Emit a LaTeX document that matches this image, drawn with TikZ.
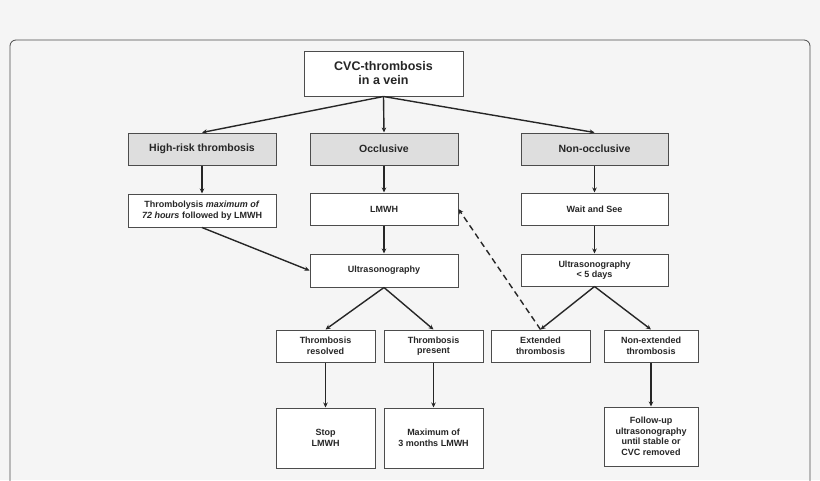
\documentclass[tikz,border=0pt]{standalone}
\usepackage{fontspec}
\setmainfont{Liberation Sans}
\usetikzlibrary{arrows.meta}
\begin{document}
\begin{tikzpicture}[x=1pt,y=-1pt,
 box/.style={draw=black!70,line width=1pt,fill=white,align=center,font=\bfseries\fontsize{9}{10.5}\selectfont,inner sep=0pt,text=black!85},
 gbox/.style={box,fill=black!13,font=\bfseries\fontsize{10.5}{12}\selectfont},
 arr/.style={-{Stealth[length=5pt,width=4.5pt]},line width=1.4pt,black!85}]
\fill[black!4] (0,0) rectangle (820,480);
\useasboundingbox (0,0) rectangle (820,480);
\draw[black!70,line width=0.8pt,rounded corners=6pt] (10,490) -- (10,40) -- (810,40) -- (810,490);
\node[box,font=\bfseries\fontsize{12.5}{14}\selectfont,minimum width=159pt,minimum height=45pt] (cvc) at (383.5,73.5) {CVC-thrombosis\\in a vein};
\node[gbox,minimum width=148pt,minimum height=32pt] (hr) at (202,149) {High-risk thrombosis};
\node[gbox,minimum width=148pt,minimum height=32pt] (oc) at (384,149) {Occlusive};
\node[gbox,minimum width=147pt,minimum height=32pt] (no) at (594.5,149) {Non-occlusive};
\node[box,minimum width=148pt,minimum height=33pt] (th) at (202,210.5) {Thrombolysis \emph{maximum of}\\\emph{72 hours} followed by LMWH};
\node[box,minimum width=148pt,minimum height=32pt] (lm) at (384,209) {LMWH};
\node[box,minimum width=147pt,minimum height=32pt] (ws) at (594.5,209) {Wait and See};
\node[box,minimum width=148pt,minimum height=33pt] (us) at (384,270.5) {Ultrasonography};
\node[box,minimum width=147pt,minimum height=32pt] (us5) at (594.5,270) {Ultrasonography\\\textless{} 5 days};
\node[box,minimum width=99pt,minimum height=32pt] (tr) at (325.5,346) {Thrombosis\\resolved};
\node[box,minimum width=99pt,minimum height=32pt] (tp) at (433.5,346) {Thrombosis\\present};
\node[box,minimum width=99pt,minimum height=32pt] (ex) at (540.5,346) {Extended\\thrombosis};
\node[box,minimum width=94pt,minimum height=32pt] (ne) at (651,346) {Non-extended\\thrombosis};
\node[box,minimum width=99pt,minimum height=60pt] (st) at (325.5,438) {Stop\\LMWH};
\node[box,minimum width=99pt,minimum height=60pt] (mx) at (433.5,438) {Maximum of\\3 months LMWH};
\node[box,minimum width=94pt,minimum height=59pt] (fu) at (651,436.5) {Follow-up\\ultrasonography\\until stable or\\CVC removed};
\draw[arr] (cvc.south) -- (hr.north);
\draw[arr] (cvc.south) -- (oc.north);
\draw[arr] (cvc.south) -- (no.north);
\draw[arr] (hr) -- (th);
\draw[arr] (oc) -- (lm);
\draw[arr] (no) -- (ws);
\draw[arr] (lm) -- (us);
\draw[arr] (ws) -- (us5);
\draw[arr] (th.south) -- (us.west);
\draw[arr] (us.south) -- (tr.north);
\draw[arr] (us.south) -- (tp.north);
\draw[arr] (us5.south) -- (ex.north);
\draw[arr] (us5.south) -- (ne.north);
\draw[arr,dash pattern=on 6pt off 4pt] (ex.north) -- (lm.east);
\draw[arr] (tr) -- (st);
\draw[arr] (tp) -- (mx);
\draw[arr] (ne) -- (fu);
\end{tikzpicture}
\end{document}
